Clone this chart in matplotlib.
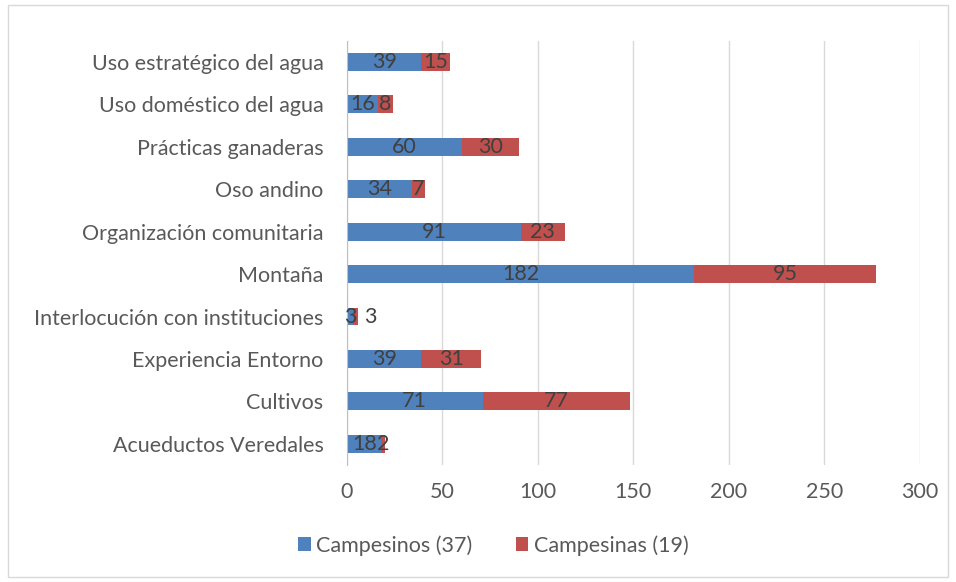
import numpy as np
import matplotlib.pyplot as plt
from matplotlib.patches import Rectangle

categories = ['Acueductos Veredales', 'Cultivos', 'Experiencia Entorno',
              'Interlocución con instituciones', 'Montaña', 'Organización comunitaria',
              'Oso andino', 'Prácticas ganaderas', 'Uso doméstico del agua',
              'Uso estratégico del agua']
campesinos = [18, 71, 39, 3, 182, 91, 34, 60, 16, 39]
campesinas = [2, 77, 31, 3, 95, 23, 7, 30, 8, 15]

plt.rcParams['font.family'] = ['Lato', 'DejaVu Sans']
fs = 15.5

fig = plt.figure(figsize=(9.56, 5.82), dpi=100)
ax = fig.add_axes([0.363, 0.201, 0.599, 0.729])

y = np.arange(len(categories))
h = 0.42
ax.barh(y, campesinos, height=h, color='#4F81BD', label='Campesinos (37)')
ax.barh(y, campesinas, height=h, left=campesinos, color='#C0504D', label='Campesinas (19)')

# data labels centred in each segment; when the whole bar is tiny the red one sits outside
for yi, a, b in zip(y, campesinos, campesinas):
    ax.text(a / 2, yi, str(a), ha='center', va='center', fontsize=fs, color='#404040')
    xb = a + b / 2 if a + b >= 10 else a + b + 6
    ax.text(xb, yi, str(b), ha='center', va='center', fontsize=fs, color='#404040')

ax.set_xlim(0, 300)
ax.set_ylim(-0.5, len(categories) - 0.5)
ax.set_xticks(range(0, 301, 50))
ax.set_yticks(y)
ax.set_yticklabels(categories)
ax.tick_params(axis='both', length=0, labelsize=fs, colors='#595959')
ax.tick_params(axis='y', pad=17)
ax.tick_params(axis='x', pad=12)
ax.grid(axis='x', color='#D9D9D9', linewidth=1)
ax.set_axisbelow(True)
for s in ['top', 'right', 'bottom']:
    ax.spines[s].set_visible(False)
ax.spines['left'].set_color('#BFBFBF')

fig.legend(loc='lower center', bbox_to_anchor=(0.516, 0.012), ncol=2, frameon=False,
           fontsize=fs, labelcolor='#595959', handlelength=0.6, handleheight=0.6,
           handletextpad=0.25, columnspacing=2.0)

fig.patches.append(Rectangle((0.008, 0.008), 0.984, 0.984, transform=fig.transFigure,
                             fill=False, edgecolor='#D9D9D9', linewidth=1))

fig.savefig('out.png', dpi=100)
